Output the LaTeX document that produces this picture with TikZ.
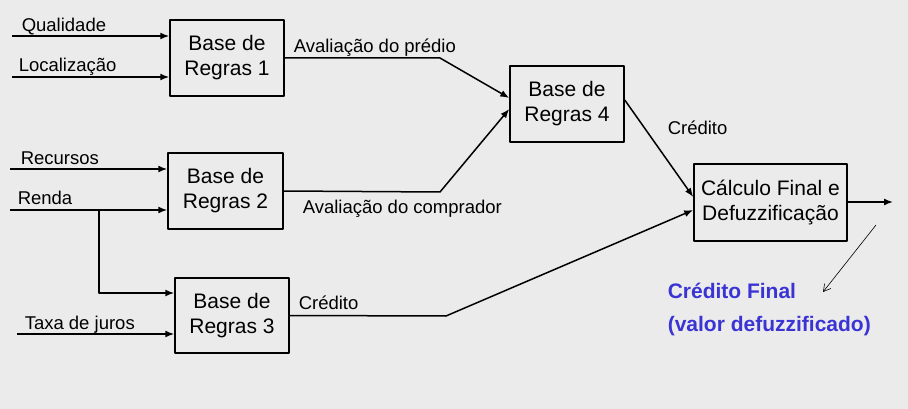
\documentclass[tikz,border=0pt]{standalone}
\usepackage{fontspec}
\setmainfont{Liberation Sans}
\usetikzlibrary{arrows.meta}
\definecolor{fundo}{RGB}{235,235,235}
\definecolor{azul}{RGB}{58,52,212}
\tikzset{
  base/.style={draw, line width=1.5pt, inner sep=0pt, align=center,
    font=\fontsize{21}{25}\selectfont},
  rot/.style={font=\fontsize{18.5}{22}\selectfont, inner sep=0pt, anchor=base west}
}
\begin{document}
\begin{tikzpicture}[x=1pt, y=-1pt, line width=1.5pt, line join=round, >={Latex[length=9pt,width=7pt]}]
	\fill[fundo](0,0)rectangle(908,409);
	\useasboundingbox(0,0)rectangle(908,409);
	% caixas
	\node[base, minimum width=114pt, minimum height=76pt] (br1) at (227,58) {Base de\\Regras 1};
	\node[base, minimum width=115pt, minimum height=76pt] (br2) at (225.5,191) {Base de\\Regras 2};
	\node[base, minimum width=114pt, minimum height=75pt] (br3) at (232,315.5) {Base de\\Regras 3};
	\node[base, minimum width=114pt, minimum height=76pt] (br4) at (567,104) {Base de\\Regras 4};
	\node[base, minimum width=153pt, minimum height=77pt] (calc) at (770.5,202.5) {C\'alculo Final e\\Defuzzifica\c{c}\~ao};
	% entradas
	\coordinate (qual) at (12,36);
	\coordinate (loc) at (12,77);
	\coordinate (rec) at (10,169);
	\coordinate (renda) at (10,210);
	\coordinate (ramo) at (99,210);
	\coordinate (taxa) at (17,334);
	\draw[->](qual)--(qual-|br1.west);
	\draw[->](loc)--(loc-|br1.west);
	\draw[->](rec)--(rec-|br2.west);
	\draw[->](renda)--(renda-|br2.west);
	\draw[->](ramo)|-([yshift=22.5pt]br3.west);
	\draw[->](taxa)--(taxa-|br3.west);
	\node[rot] (lqual) at (21,31.5) {Qualidade};
	\node[rot] (lloc) at (18,72) {Localiza\c{c}\~ao};
	\node[rot] (lrec) at (20,164.5) {Recursos};
	\node[rot] (lrenda) at (17,204.5) {Renda};
	\node[rot] (ltaxa) at (24,329) {Taxa de juros};
	% saidas
	\draw[->](br1.east)--(440,58)--([yshift=6pt]br4.west);
	\draw[->](br2.east)--(440,192)--([yshift=-5pt]br4.west);
	\draw[->](br3.east)--(446,316)--([yshift=-7.5pt]calc.west);
	\draw[->]([yshift=4pt]br4.east)--([yshift=5.5pt]calc.west);
	\coordinate (fim) at (893,202);
	\draw[->](calc.east|-fim)--(fim);
	\node[rot] (lpred) at (293,52.5) {Avalia\c{c}\~ao do pr\'edio};
	\node[rot] (lcomp) at (302,214) {Avalia\c{c}\~ao do comprador};
	\node[rot] (lcred3) at (298,309) {Cr\'edito};
	\node[rot] (lcred4) at (667,135) {Cr\'edito};
	% resultado
	\node[font=\fontsize{21}{33}\selectfont\bfseries, text=azul, align=left, inner sep=0pt, anchor=base west] (final) at (667,331) {Cr\'edito Final\\(valor defuzzificado)};
	\coordinate (seta) at (876,225);
	\draw[line width=.6pt, -{Straight Barb[length=7pt,width=8pt]}](seta)--(823,292);
\end{tikzpicture}
\end{document}
